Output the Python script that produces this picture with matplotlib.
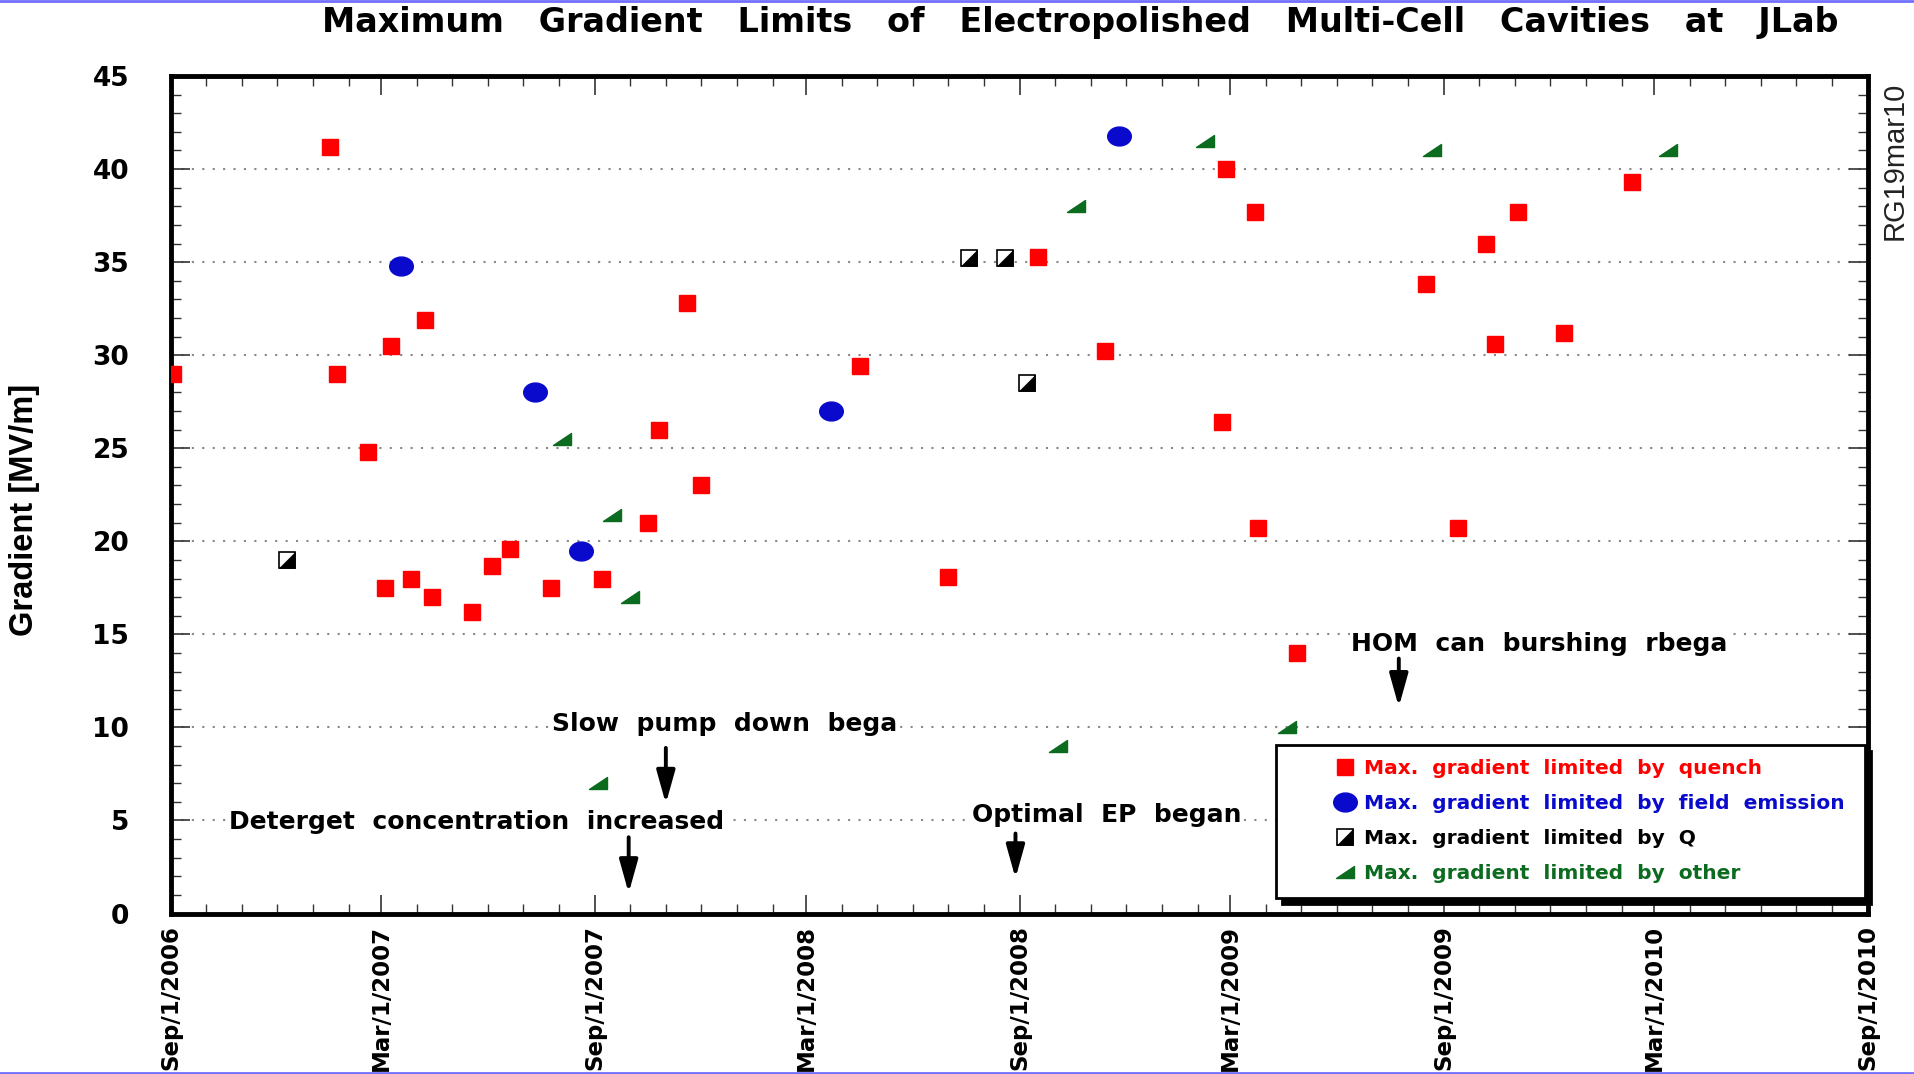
import numpy as np
import pandas as pd
import matplotlib
matplotlib.use("Agg")
import matplotlib.pyplot as plt
import matplotlib.dates as mdates
import matplotlib.transforms as mtransforms
from matplotlib.path import Path
from matplotlib.lines import Line2D
from matplotlib.patches import Rectangle
from matplotlib.ticker import FuncFormatter, MultipleLocator

plt.rcParams['font.family'] = ['Liberation Sans', 'DejaVu Sans']

# -----------------------------
# Dados
# -----------------------------
quench_datas = ["2006-09-03", "2007-01-16", "2007-01-22", "2007-02-18", "2007-03-04",
                "2007-03-09", "2007-03-27", "2007-04-08", "2007-04-14", "2007-05-18",
                "2007-06-04", "2007-06-20", "2007-07-25", "2007-09-07", "2007-10-17",
                "2007-10-26", "2007-11-19", "2007-12-01", "2008-04-16", "2008-07-01",
                "2008-09-16", "2008-11-13", "2009-02-22", "2009-02-25", "2009-03-22",
                "2009-03-25", "2009-04-27", "2009-08-16", "2009-09-13", "2009-10-07",
                "2009-10-15", "2009-11-04", "2009-12-13", "2010-02-10"]
quench_grad = [29.0, 41.2, 29.0, 24.8, 17.5, 30.5, 18.0, 31.9, 17.0, 16.2,
               18.7, 19.6, 17.5, 18.0, 21.0, 26.0, 32.8, 23.0, 29.4, 18.1,
               35.3, 30.2, 26.4, 40.0, 37.7, 20.7, 14.0, 33.8, 20.7, 36.0,
               30.6, 37.7, 31.2, 39.3]

fe_datas = ["2007-03-18", "2007-07-11", "2007-08-20", "2008-03-22", "2008-11-25"]
fe_grad = [34.8, 28.0, 19.5, 27.0, 41.8]

q_datas = ["2006-12-10", "2008-07-19", "2008-08-19", "2008-09-07"]
q_grad = [19.0, 35.2, 35.2, 28.5]

outro_datas = ["2007-08-04", "2007-09-16", "2007-10-01", "2007-09-04", "2008-10-19",
               "2008-10-04", "2009-02-07", "2009-04-19", "2009-08-22", "2010-03-13"]
outro_grad = [25.5, 21.4, 17.0, 7.0, 38.0, 9.0, 41.5, 10.0, 41.0, 41.0]

# anotacoes: texto, data do texto, y do texto, data da seta, y inicio, y fim
notas = [
    ("Slow  pump  down  bega", "2007-12-22", 10.2, "2007-11-01", 8.9, 5.9),
    ("Deterget  concentration  increased", "2007-05-22", 4.9, "2007-09-30", 4.1, 1.1),
    ("Optimal  EP  began", "2008-11-15", 5.3, "2008-08-28", 4.3, 1.9),
    ("HOM  can  burshing  rbega", "2009-11-22", 14.5, "2009-07-24", 13.7, 11.1),
]

leg_labels = ["Max.  gradient  limited  by  quench",
              "Max.  gradient  limited  by  field  emission",
              "Max.  gradient  limited  by  Q",
              "Max.  gradient  limited  by  other"]

VERMELHO = "#ff0000"
AZUL = "#0a0acc"
VERDE = "#0b6b1e"
FONTE_LARGA = ["DejaVu Sans"]

# marcadores proprios
tri = Path([(-1, -0.7), (1, -0.7), (1, 0.7), (-1, -0.7)],
           [Path.MOVETO, Path.LINETO, Path.LINETO, Path.CLOSEPOLY])
tri_q = Path([(-1, -1), (1, -1), (1, 1), (-1, -1)],
             [Path.MOVETO, Path.LINETO, Path.LINETO, Path.CLOSEPOLY])
circ = Path.unit_circle()
elipse = Path(circ.vertices * np.array([1.0, 0.8]), circ.codes)

fig = plt.figure(figsize=(19.15, 10.74), dpi=100)
ax = fig.add_axes([0.0893, 0.1494, 0.8862, 0.7798])

d = pd.to_datetime
h_q, = ax.plot(d(quench_datas), quench_grad, ls="none", marker="s", ms=12,
               mfc=VERMELHO, mec=VERMELHO, zorder=5)
h_fe, = ax.plot(d(fe_datas), fe_grad, ls="none", marker=elipse, ms=17,
                mfc=AZUL, mec=AZUL, zorder=5)
h_q1, = ax.plot(d(q_datas), q_grad, ls="none", marker="s", ms=11,
                mfc="white", mec="black", mew=1.2, zorder=5)
h_q2, = ax.plot(d(q_datas), q_grad, ls="none", marker=tri_q, ms=11,
                mfc="black", mec="black", mew=0.5, zorder=6)
h_o, = ax.plot(d(outro_datas), outro_grad, ls="none", marker=tri, ms=13,
               mfc=VERDE, mec=VERDE, zorder=5)

for texto, dt, yt, da, y0, y1 in notas:
    ax.text(d(dt), yt, texto, ha="center", va="center", fontsize=18,
            fontweight="bold", family=FONTE_LARGA, zorder=4,
            bbox=dict(facecolor="white", edgecolor="none", pad=1))
    ax.annotate("", xy=(d(da), y1), xytext=(d(da), y0), zorder=4,
                arrowprops=dict(arrowstyle="-|>,head_length=1.0,head_width=0.28",
                                color="black", lw=2.8, mutation_scale=20,
                                shrinkA=0, shrinkB=0))

# eixos
ax.set_xlim(d("2006-09-01"), d("2010-09-01"))
ax.set_ylim(0, 45)
ax.xaxis.set_major_locator(mdates.MonthLocator(bymonth=[3, 9]))
ax.xaxis.set_minor_locator(mdates.MonthLocator())
ax.xaxis.set_major_formatter(FuncFormatter(
    lambda v, p: "{0:%b}/{0.day}/{0.year}".format(mdates.num2date(v))))
ax.yaxis.set_major_locator(MultipleLocator(5))
ax.yaxis.set_minor_locator(MultipleLocator(1))

ax.tick_params(which="both", direction="in", top=True, right=True, color="#333333")
ax.tick_params(which="major", length=14, width=1.2)
ax.tick_params(which="minor", length=7, width=1)
ax.tick_params(axis="y", which="major", pad=30)
ax.tick_params(axis="x", which="major", pad=8)
for lab in ax.get_yticklabels():
    lab.set_fontsize(19)
    lab.set_fontweight("bold")
    lab.set_family(FONTE_LARGA)
for lab in ax.get_xticklabels():
    lab.set_fontsize(16.5)
    lab.set_fontweight("bold")
    lab.set_family(FONTE_LARGA)
    lab.set_rotation(90)
    lab.set_va("top")

ax.grid(axis="y", which="major", ls=(0, (1, 4)), color="#888888", lw=1.5)
ax.set_axisbelow(True)
for s in ax.spines.values():
    s.set_linewidth(3.5)
    s.set_color("black")

fig.text(0.0127, 0.525, "Gradient [MV/m]", rotation=90, ha="center", va="center",
         fontsize=23.5, fontweight="bold", family=["Liberation Sans"])
fig.text(0.9896, 0.85, "RG19mar10", rotation=90, ha="center", va="center",
         fontsize=21, color="#222222")
fig.text(0.564, 0.979, "Maximum   Gradient   Limits   of   Electropolished   Multi-Cell   Cavities   at   JLab",
         ha="center", va="center", fontsize=24, fontweight="bold", family=FONTE_LARGA)

# caixa da legenda com sombra preta
caixa = (0.651, 0.0185)
larg, alt = 0.347, 0.1825
sombra_tr = mtransforms.offset_copy(ax.transAxes, fig=fig, x=6, y=-6, units="dots")
ax.add_patch(Rectangle(caixa, larg, alt, transform=sombra_tr, fc="black", ec="black",
                       lw=2, zorder=7, clip_on=False))
ax.add_patch(Rectangle(caixa, larg, alt, transform=ax.transAxes, fc="white", ec="black",
                       lw=2, zorder=7.5, clip_on=False))

leg = ax.legend([h_q, h_fe, (h_q1, h_q2), h_o], leg_labels,
                loc="upper left", bbox_to_anchor=(0.680, 0.196),
                frameon=False, borderpad=0, labelspacing=0.78, handletextpad=0.45,
                handlelength=1.0, prop=dict(size=14.5, weight="bold", family=FONTE_LARGA))
leg.set_zorder(8)
for t, c in zip(leg.get_texts(), [VERMELHO, AZUL, "black", VERDE]):
    t.set_color(c)

# bordas azuis da captura
fig.add_artist(Line2D([0, 1], [0.999, 0.999], color="#7070ff", lw=2))
fig.add_artist(Line2D([0, 1], [0.001, 0.001], color="#7070ff", lw=2))

fig.savefig("out.png", dpi=100)
